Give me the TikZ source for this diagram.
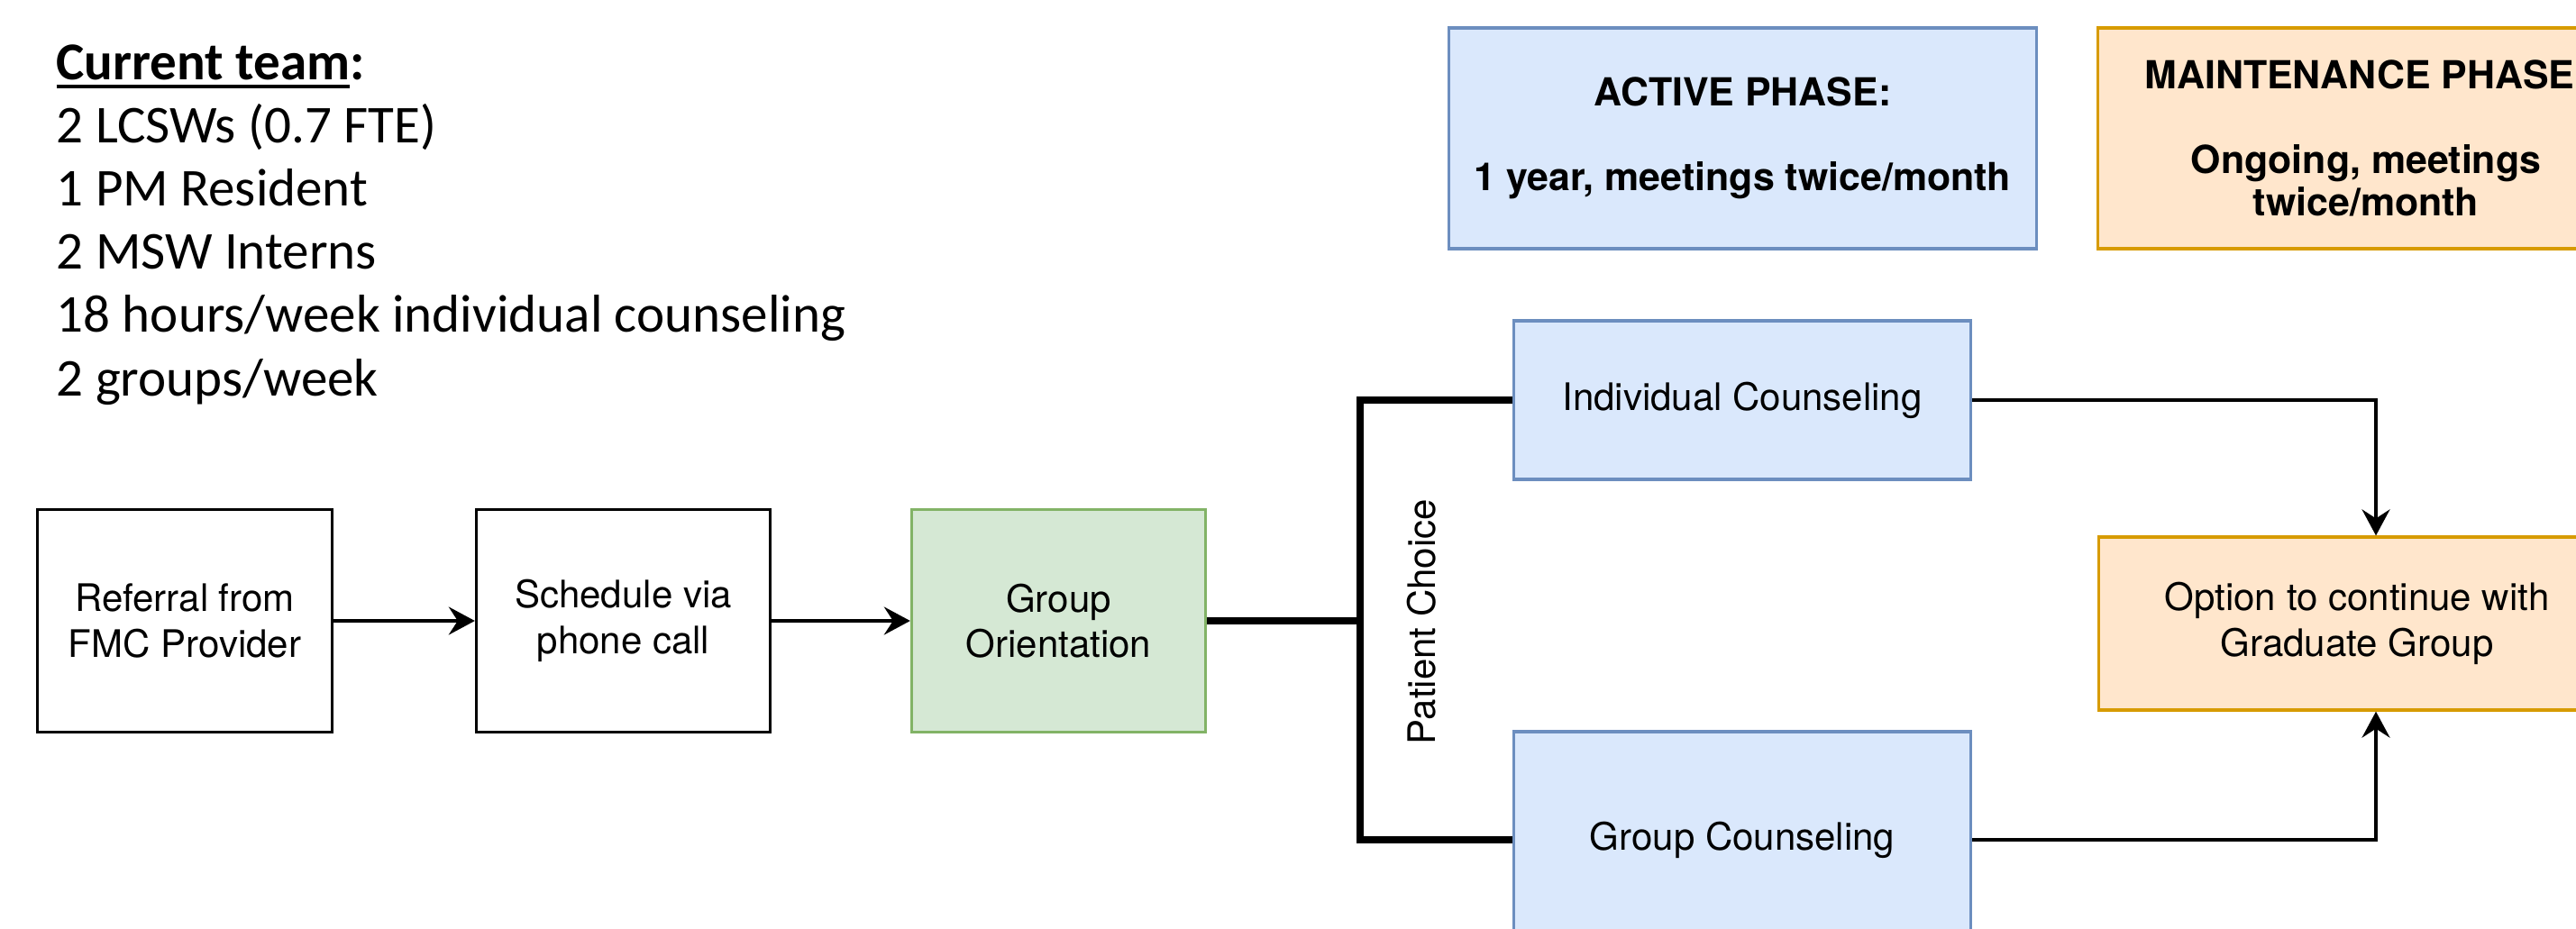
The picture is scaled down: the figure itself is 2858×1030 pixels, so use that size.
\documentclass[tikz,border=0pt]{standalone}
\usepackage{fontspec}
\setmainfont{TeX Gyre Heros}
\newfontfamily\calibri{Carlito}
\usetikzlibrary{arrows.meta}
\definecolor{fillblue}{HTML}{DAE8FC}
\definecolor{lineblue}{HTML}{6C8EBF}
\definecolor{fillgreen}{HTML}{D5E8D4}
\definecolor{linegreen}{HTML}{82B366}
\definecolor{fillorange}{HTML}{FFE6CC}
\definecolor{lineorange}{HTML}{D79B00}
\newcommand{\teamline}[1]{{\setbox0\hbox{#1}\rlap{\rule[-2.8pt]{\wd0}{1.14pt}}\box0}}

\begin{document}
\begin{tikzpicture}[x=0.01cm, y=-0.01cm,
    box/.style={rectangle, draw, line width=0.9pt, inner sep=0pt, align=center,
      minimum width=3.26cm, minimum height=2.47cm, font=\fontsize{11.95pt}{14.3pt}\selectfont},
    blu/.style={box, fill=fillblue, draw=lineblue, minimum width=5.07cm, minimum height=1.76cm},
    grn/.style={box, fill=fillgreen, draw=linegreen},
    org/.style={box, fill=fillorange, draw=lineorange, minimum width=5.72cm, minimum height=1.92cm},
    phase/.style={box, minimum height=2.45cm, font=\fontsize{12.2pt}{13.4pt}\selectfont\bfseries},
    team/.style={anchor=base west, inner sep=0pt, font=\calibri\fontsize{16.8pt}{20pt}\selectfont},
    arr/.style={-{Stealth[length=0.29cm, width=0.31cm, inset=0.1cm]}, line width=1pt},
    bar/.style={line width=2.3pt}]
  \useasboundingbox (0,0) rectangle (2858,1030);
  \clip (0,0) rectangle (2858,1030);
  \fill[white] (0,0) rectangle (2858,1030);
  % team summary
  \node[team] (t0) at (62,88) {\textbf{\teamline{Current team}:}};
  \foreach \txt [count=\i] in {2 LCSWs (0.7 FTE), 1 PM Resident, 2 MSW Interns,
      18 hours/week individual counseling, 2 groups/week}
    \node[team] (t\i) at (62,88+70.2*\i) {\txt};
  % phases
  \node[phase, fill=fillblue, draw=lineblue, minimum width=6.51cm] (act) at (1933.5,153.5)
    {ACTIVE PHASE:\\[13.4pt]1 year, meetings twice/month};
  \node[phase, fill=fillorange, draw=lineorange, minimum width=5.94cm] (mnt) at (2625,153.5)
    {MAINTENANCE PHASE:\\[13.4pt]Ongoing, meetings\\twice/month};
  % flow
  \node[box] (ref) at (205,689) {Referral from\\FMC Provider};
  \node[box] (sch) at (691.5,689) {Schedule via\\phone call};
  \node[grn] (ori) at (1174.5,689) {Group\\Orientation};
  \node[blu] (ind) at (1933,444) {Individual Counseling};
  \node[blu, minimum height=2.4cm] (grp) at (1933,932) {Group Counseling};
  \node[org] (opt) at (2615,692) {Option to continue with\\Graduate Group};
  \node[rotate=90, inner sep=0pt, font=\fontsize{11.95pt}{14.3pt}\selectfont] (pc) at (1577,690) {Patient Choice};
  \draw[arr] (ref) -- (sch);
  \draw[arr] (sch) -- (ori);
  \coordinate (fork) at (1509,689);
  \draw[bar] (ori) -- (fork);
  \draw[bar] (ind.west) -| (fork) |- (grp.west);
  \coordinate (drop) at (2636,692);
  \draw[arr] (ind.east) -| (drop |- opt.north);
  \draw[arr] (grp.east) -| (drop |- opt.south);
\end{tikzpicture}
\end{document}
